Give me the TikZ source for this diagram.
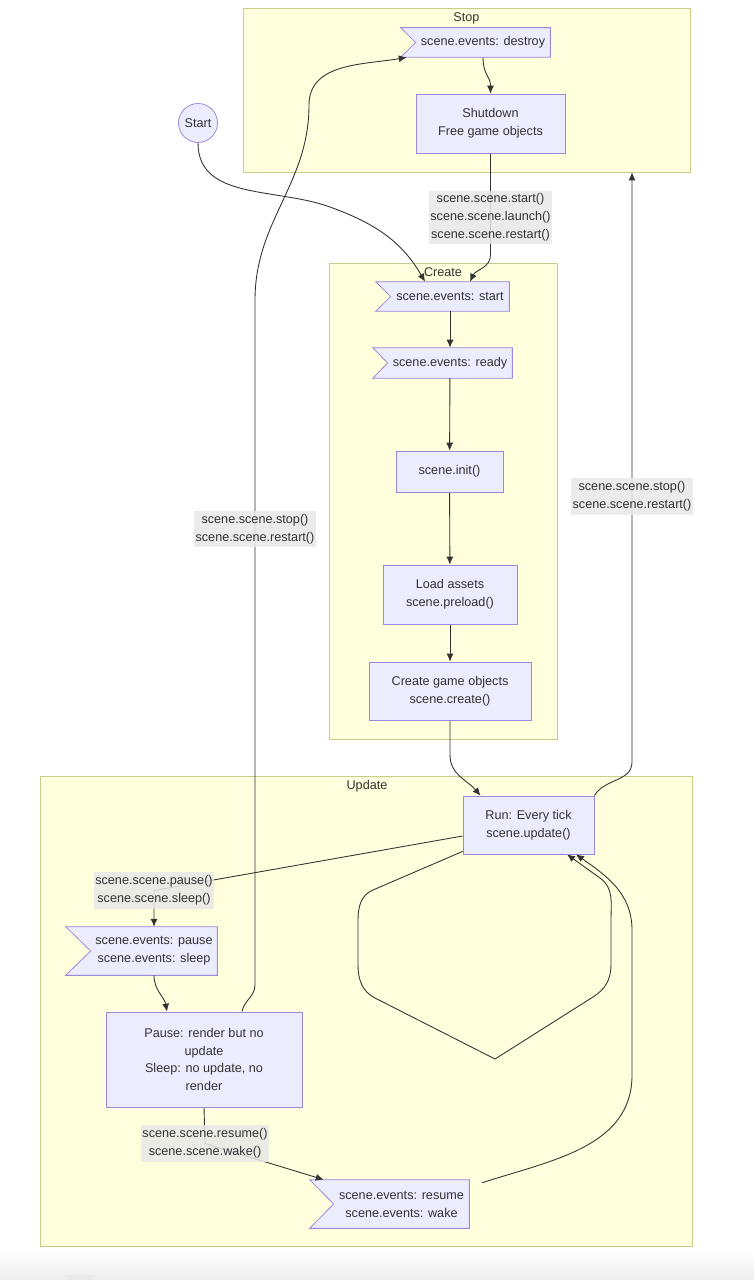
\documentclass[tikz,border=0pt]{standalone}
\usepackage{fontspec}
\setmainfont{Liberation Sans}
\usetikzlibrary{arrows.meta,calc}

\pgfdeclarelayer{bg}
\pgfdeclarelayer{edges}
\pgfsetlayers{bg,edges,main}

\definecolor{clfill}{HTML}{FFFFDE}
\definecolor{clline}{HTML}{C9CB8B}
\definecolor{ndfill}{HTML}{ECECFF}
\definecolor{ndline}{HTML}{9B87DB}
\definecolor{lblfill}{HTML}{E8E8E8}
\definecolor{ink}{HTML}{333333}

\newdimen\pxu \pxu=0.02cm

\begin{document}
\begin{tikzpicture}[x=0.02cm, y=-0.02cm, font=\fontsize{7.2}{10.2}\selectfont, text=ink,
	box/.style={rectangle, draw=ndline, fill=ndfill, line width=0.45pt, align=center, inner sep=0pt},
	evt/.style={rectangle, align=center, inner sep=0pt},
	flagline/.style={draw=ndline, fill=ndfill, line width=0.45pt},
	cluster/.style={rectangle, draw=clline, fill=clfill, line width=0.45pt, inner sep=0pt},
	title/.style={inner sep=0pt},
	lbl/.style={fill=lblfill, fill opacity=0.85, text opacity=1, align=center, inner xsep=1pt, inner ysep=1.8pt},
	flow/.style={draw=ink, line width=0.5pt, -{Latex[length=4.5pt,width=4pt]}}]
	\useasboundingbox (0,0) rectangle (754,1280);

	%page and the three groups
	\begin{pgfonlayer}{bg}
		\fill[white] (0,0) rectangle (754,1280);
		\shade[top color=white, bottom color=black!7] (0,1250) rectangle (754,1280);
		\fill[black!9] (65,1275) rectangle (95,1280);
		\node[cluster, minimum width=447\pxu, minimum height=164\pxu] (stopbox) at (466.5,90) {};
		\node[cluster, minimum width=228\pxu, minimum height=476\pxu] (createbox) at (443,501) {};
		\node[cluster, minimum width=652\pxu, minimum height=470\pxu] (updatebox) at (366,1011) {};
	\end{pgfonlayer}
	\node[title] (stoptitle) at (466.5,18) {Stop};
	\node[title] (createtitle) at (443,272) {Create};
	\node[title] (updatetitle) at (367,786) {Update};

	%start
	\node[circle, draw=ndline, fill=ndfill, line width=0.45pt, minimum size=39\pxu, inner sep=0pt] (start) at (198,123) {Start};

	%stop group
	\node[evt, minimum width=134\pxu, minimum height=29\pxu] (destroy) at (483,42.5) {scene.events: destroy};
	\node[box, minimum width=149\pxu, minimum height=59\pxu] (shut) at (490.5,123.5) {Shutdown\\Free game objects};

	%create group
	\node[evt, minimum width=118\pxu, minimum height=29\pxu] (evstart) at (450,296.5) {scene.events: start};
	\node[evt, minimum width=124\pxu, minimum height=30\pxu] (ready) at (450,363) {scene.events: ready};
	\node[box, minimum width=107\pxu, minimum height=41\pxu] (init) at (449.5,471.5) {scene.init()};
	\node[box, minimum width=134\pxu, minimum height=59\pxu] (load) at (450,594.5) {Load assets\\scene.preload()};
	\node[box, minimum width=162\pxu, minimum height=58\pxu] (mk) at (450,691) {Create game objects\\scene.create()};

	%update group
	\node[box, minimum width=131\pxu, minimum height=58\pxu] (run) at (528.5,825) {Run: Every tick\\scene.update()};
	\node[evt, minimum width=126\pxu, minimum height=48\pxu] (pflag) at (154,951) {scene.events: pause\\scene.events: sleep};
	\node[box, minimum width=196\pxu, minimum height=95\pxu] (pausebox) at (204,1059.5) {Pause: render but no\\update\\Sleep: no update, no\\render};
	\node[evt, minimum width=135\pxu, minimum height=48\pxu] (rflag) at (401.5,1204) {scene.events: resume\\scene.events: wake};

	%event flags, notch at the west side
	\begin{pgfonlayer}{bg}
		\foreach \n/\d in {destroy/15, evstart/15, ready/15, pflag/25, rflag/24}
			\filldraw[flagline] ($(\n.north west)+(-\d,0)$) -- (\n.north east) -- (\n.south east) -- ($(\n.south west)+(-\d,0)$) -- (\n.west) -- cycle;
	\end{pgfonlayer}

	%edge labels
	\node[lbl] (lstart) at (490.5,217.5) {scene.scene.start()\\scene.scene.launch()\\scene.scene.restart()};
	\node[lbl] (lstop1) at (255,529) {scene.scene.stop()\\scene.scene.restart()};
	\node[lbl] (lstop2) at (632,496.5) {scene.scene.stop()\\scene.scene.restart()};
	\node[lbl] (lpause) at (154,890.5) {scene.scene.pause()\\scene.scene.sleep()};
	\node[lbl] (lresume) at (205,1143.5) {scene.scene.resume()\\scene.scene.wake()};

	\begin{pgfonlayer}{edges}
		%into create
		\draw[flow] (start.south) to[out=-90,in=160] (330,207) to[out=-20,in=120] ($(evstart.north)+(-25,0)$);
		\draw[flow] (shut.south) -- ($(lstart.south)+(0,10)$) to[out=-90,in=65] ($(evstart.north)+(20,0)$);

		%stop
		\draw[flow] (destroy.south) .. controls +(0,18) and +(0,-18) .. (shut.north);

		%create chain
		\draw[flow] (evstart) -- (ready);
		\draw[flow] (ready) -- (init);
		\draw[flow] (init) -- (load);
		\draw[flow] (load) -- (mk);
		\draw[flow] (mk.south) -- (450,755) to[out=-90,in=130] ($(run.north)+(-48,0)$);

		%run to stop
		\draw[flow] (run.north east) to[out=60,in=-90] (632,762) -- (lstop2 |- stopbox.south);

		%run loop
		\draw[flow] ($(run.south west)+(0,-3)$) -- (373,890) to[out=-157,in=90] (358,920) -- (358,965) to[out=-90,in=153] (375,998) -- (495,1059) -- (593,997) to[out=32,in=-90] (611,965) -- (611,920) to[out=90,in=-35] (600,878) -- ($(run.south)+(38.5,0)$);

		%pause and sleep
		\draw[flow] ($(run.west)+(0,11)$) -- (lpause.center) -- (pflag.north);
		\draw[flow] (pflag.south) to[out=-90,in=100] ($(pausebox.north)+(-37,0)$);
		\draw[flow] ($(pausebox.north)+(38,0)$) to[out=80,in=-90] (255,985) -- (lstop1.center) -- (255,300) to[out=90,in=-90] (309,105) to[out=90,in=190] ($(destroy.south west)+(-9,0)$);

		%resume and wake
		\draw[flow] (pausebox.south) -- (lresume.center) -- ($(rflag.north west)+(-10,0)$);
		\draw[flow] ($(rflag.north east)+(13,3)$) to[out=18,in=-90] (632,1075) -- (632,930) to[out=90,in=-35] ($(run.south)+(47.5,0)$);
	\end{pgfonlayer}

\end{tikzpicture}
\end{document}
